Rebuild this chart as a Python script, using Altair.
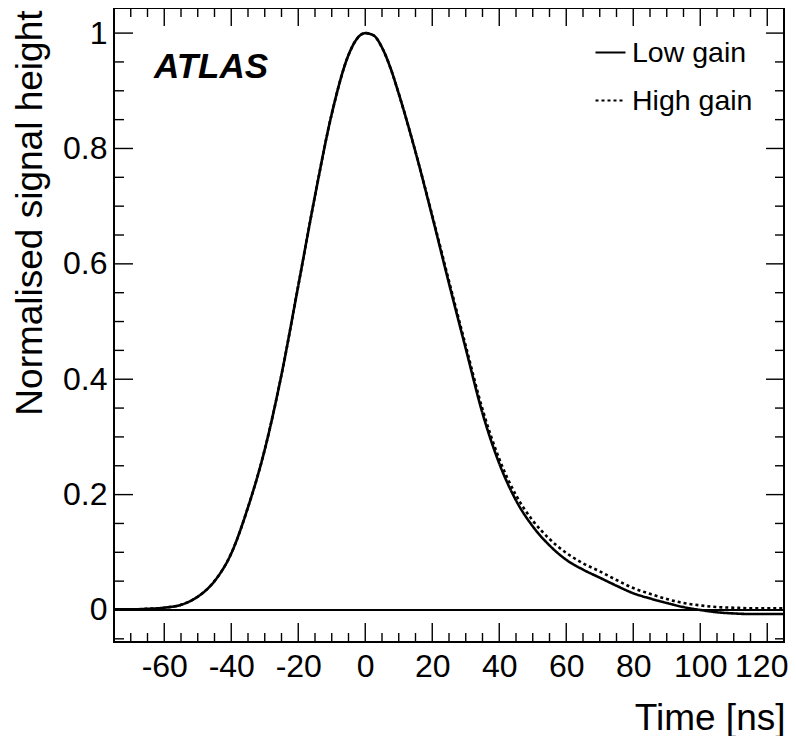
import altair as alt
import pandas as pd

FONT = "Liberation Sans"

# ---- data ----
time_ns = [-75, -70, -65, -60, -55, -50, -45, -40, -35, -30, -25, -20, -15, -10, -5, -2.5,
           0, 2.5, 5, 7.5, 10, 15, 20, 25, 30, 35, 40, 45, 50, 55, 60, 65, 70, 75, 80,
           85, 90, 95, 100, 105, 110, 115, 120, 125]
low_gain = [0.001, 0.001, 0.002, 0.004, 0.009, 0.023, 0.050, 0.098, 0.178, 0.278, 0.408, 0.562,
            0.718, 0.860, 0.962, 0.990, 1.000, 0.996, 0.975, 0.940, 0.895, 0.794, 0.682, 0.566,
            0.453, 0.341, 0.254, 0.190, 0.145, 0.112, 0.087, 0.070, 0.056, 0.042, 0.029, 0.020,
            0.012, 0.005, 0.000, -0.004, -0.006, -0.007, -0.007, -0.007]
high_gain = [0.001, 0.001, 0.002, 0.004, 0.009, 0.023, 0.050, 0.098, 0.178, 0.278, 0.408, 0.562,
             0.718, 0.860, 0.962, 0.990, 1.000, 0.996, 0.975, 0.940, 0.895, 0.794, 0.684, 0.570,
             0.458, 0.348, 0.262, 0.199, 0.155, 0.123, 0.099, 0.081, 0.067, 0.052, 0.038, 0.028,
             0.019, 0.012, 0.008, 0.005, 0.004, 0.003, 0.003, 0.003]
series_names = ["Low gain", "High gain"]
x_major_ticks = [-60, -40, -20, 0, 20, 40, 60, 80, 100, 120]
x_minor_ticks = [v for v in range(-75, 126, 5) if v not in x_major_ticks]
y_major_ticks = [0, 0.2, 0.4, 0.6, 0.8, 1]
y_minor_ticks = [round(-0.05 + 0.05 * i, 2) for i in range(21)]
y_minor_ticks = [v for v in y_minor_ticks if v not in y_major_ticks]
atlas_label = ["ATLAS"]

W, H = 670, 634
xs = alt.Scale(domain=[-75, 125], nice=False, zero=False)
ys = alt.Scale(domain=[-0.0555, 1.0435], nice=False, zero=False)

n = len(time_ns)
df = pd.DataFrame({
    "t": time_ns * 2,
    "v": low_gain + high_gain,
    "series": [series_names[0]] * n + [series_names[1]] * n,
})

x_axis = alt.Axis(
    values=x_major_ticks, labelExpr="datum.value + ''", title="Time [ns]",
    domain=False, ticks=False, grid=False, labelPadding=9, labelFontSize=32,
    labelOffset={"condition": {"test": "datum.value == 120", "value": -6}, "value": 0},
    titleFontSize=37, titleAlign="right", titleAnchor="end", titleX=W + 1, titleY=87,
    titleBaseline="alphabetic")
y_axis = alt.Axis(
    values=y_major_ticks, labelExpr="datum.value + ''", title="Normalised signal height",
    domain=False, ticks=False, grid=False, labelPadding=7, labelFontSize=32,
    titleFontSize=37, titleAngle=270, titleAlign="right", titleAnchor="end",
    titleX=-73, titleY=2, titleBaseline="alphabetic")

lines = alt.Chart(df).mark_line(color="black", strokeWidth=2.6, interpolate="monotone").encode(
    x=alt.X("t:Q", scale=xs, axis=x_axis),
    y=alt.Y("v:Q", scale=ys, axis=y_axis),
    strokeDash=alt.StrokeDash("series:N", title=None,
                              scale=alt.Scale(domain=series_names, range=[[1, 0], [3, 3]]),
                              legend=alt.Legend(orient="none", legendX=480, legendY=28,
                                                direction="vertical", symbolType="stroke",
                                                symbolSize=900, symbolStrokeWidth=2.2,
                                                symbolStrokeColor="black", labelFontSize=28.5,
                                                labelFont=FONT, labelOffset=5, rowPadding=17,
                                                padding=0, labelColor="black")),
)

zero_line = alt.Chart(pd.DataFrame({"v": [0]})).mark_rule(color="black", strokeWidth=2).encode(
    y=alt.Y("v:Q", scale=ys, axis=y_axis))


def xticks(vals, y1, y2):
    return alt.Chart(pd.DataFrame({"t": vals})).mark_rule(color="black", strokeWidth=1.4).encode(
        x=alt.X("t:Q", scale=xs, axis=x_axis), y=alt.value(y1), y2=alt.value(y2))


def yticks(vals, x1, x2):
    return alt.Chart(pd.DataFrame({"v": vals})).mark_rule(color="black", strokeWidth=1.4).encode(
        y=alt.Y("v:Q", scale=ys, axis=y_axis), x=alt.value(x1), x2=alt.value(x2))


tick_layers = [
    xticks(x_major_ticks, H, H - 19), xticks(x_minor_ticks, H, H - 9),
    xticks(x_major_ticks, 0, 18), xticks(x_minor_ticks, 0, 9),
    yticks(y_major_ticks, 0, 19), yticks(y_minor_ticks, 0, 10),
    yticks(y_major_ticks, W, W - 18), yticks(y_minor_ticks, W, W - 9),
]

atlas = alt.Chart(pd.DataFrame({"label": atlas_label})).mark_text(
    align="left", baseline="alphabetic", fontSize=35, fontWeight="bold",
    fontStyle="italic", font=FONT, color="black").encode(
    text="label:N", x=alt.value(40), y=alt.value(70))

chart = alt.layer(lines, zero_line, *tick_layers, atlas).properties(
    width=W, height=H,
    autosize=alt.AutoSizeParams(type="none"),
    padding={"left": 106, "top": 0, "right": 4, "bottom": 94},
    background="white",
).configure_view(stroke="black", strokeWidth=2).configure_axis(
    labelFont=FONT, titleFont=FONT, labelColor="black", titleColor="black",
    titleFontWeight="normal")

chart.save("out.html", embed_options={"renderer": "svg", "actions": False})
